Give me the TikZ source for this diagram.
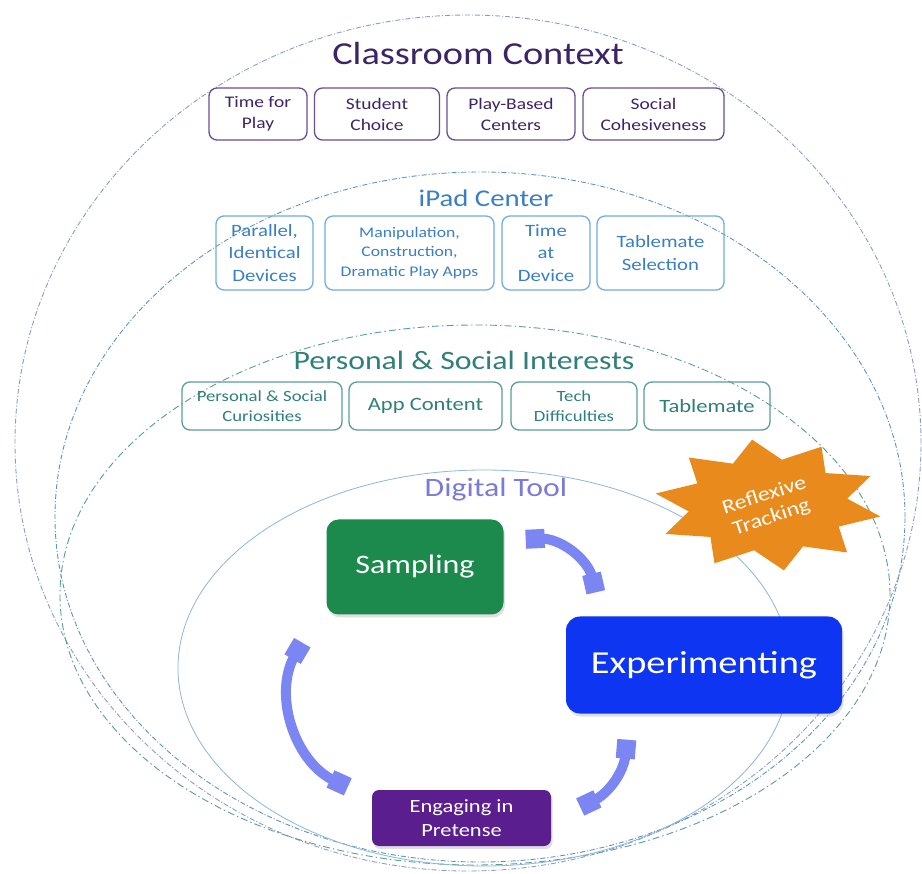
\documentclass[tikz,border=0pt]{standalone}
\usepackage{fontspec}
\setmainfont{Carlito}[FakeStretch=1.2]
\usetikzlibrary{shapes.geometric,arrows.meta,calc,shadows}
\definecolor{ccpurple}{HTML}{3D2466}
\definecolor{ccborder}{HTML}{6B4E8F}
\definecolor{ipblue}{HTML}{3A7FC6}
\definecolor{ipborder}{HTML}{6FAEE0}
\definecolor{psteal}{HTML}{2F7F7A}
\definecolor{psborder}{HTML}{5A9E99}
\definecolor{dtlav}{HTML}{7A7AD8}
\definecolor{arrcol}{HTML}{7B86F2}
\definecolor{sampgreen}{HTML}{1B8A4C}
\definecolor{expblue}{HTML}{0D35F2}
\definecolor{engpurple}{HTML}{5B1E8E}
\definecolor{starorange}{HTML}{E98A1C}
\definecolor{outerline}{HTML}{8C9CC8}
\definecolor{dtline}{HTML}{8CB8D8}
\tikzset{
  fs/.style={font=\fontsize{#1pt}{\dimexpr #1pt*130/100\relax}\selectfont},
  ccbox/.style={draw=ccborder, line width=1.3pt, rounded corners=8pt, text=ccpurple, align=center, fs=16.2, inner sep=0pt, minimum height=52pt},
  ipbox/.style={draw=ipborder, line width=1.3pt, rounded corners=8pt, text=ipblue, align=center, fs=17.3, inner sep=0pt, minimum height=74pt},
  psbox/.style={draw=psborder, line width=1.3pt, rounded corners=8pt, text=psteal, align=center, fs=15.6, inner sep=0pt, minimum height=48pt},
  corebox/.style={rounded corners=12pt, text=white, align=center, inner sep=0pt,
    drop shadow={opacity=0.25, shadow xshift=1.5pt, shadow yshift=-3pt}},
  cyclearr/.style={draw=arrcol, line width=10pt, {Square[length=19pt,width=19pt]}-{Square[length=19pt,width=19pt]}},
  ring/.style={line width=0.9pt, dash pattern=on 5pt off 2pt on 1pt off 2pt}
}
\begin{document}
\begin{tikzpicture}[x=1pt,y=-1pt]
\useasboundingbox (0,0) rectangle (922,874);
\fill[white] (0,0) rectangle (922,874);
% rings
\draw[ring, draw=outerline] (468,443) ellipse [x radius=453pt, y radius=428pt];
\draw[ring, draw=ipborder!85!black] (480,517) ellipse [x radius=425pt, y radius=345pt];
\draw[ring, draw=psborder, dash pattern=on 7pt off 3pt on 1.5pt off 3pt] (475,595) ellipse [x radius=415pt, y radius=270pt];
\draw[draw=dtline, line width=0.8pt] (484,668) ellipse [x radius=306pt, y radius=198pt];
% titles
\node[text=ccpurple, fs=32, anchor=base] (cctitle) at (478,65) {Classroom Context};
\node[text=ipblue, fs=24, anchor=base] (iptitle) at (486,207) {iPad Center};
\node[text=psteal, fs=26.5, anchor=base] (pstitle) at (464,370) {Personal \& Social Interests};
\node[text=dtlav, fs=26.5, anchor=base] (dttitle) at (496,497) {Digital Tool};
% classroom boxes
\node[ccbox, minimum width=98pt] (c1) at (258,114) {Time for\\Play};
\node[ccbox, minimum width=125pt] (c2) at (377,114) {Student\\Choice};
\node[ccbox, minimum width=128pt] (c3) at (511,114) {Play-Based\\Centers};
\node[ccbox, minimum width=141pt] (c4) at (653.5,114) {Social\\Cohesiveness};
% ipad boxes
\node[ipbox, minimum width=97pt] (i1) at (264.5,253) {Parallel,\\Identical\\Devices};
\node[ipbox, minimum width=169pt, fs=14.7] (i2) at (409.5,253) {Manipulation,\\Construction,\\Dramatic Play Apps};
\node[ipbox, minimum width=88pt] (i3) at (546,253) {Time\\at\\Device};
\node[ipbox, minimum width=127pt] (i4) at (660.5,253) {Tablemate\\Selection};
% personal boxes
\node[psbox, minimum width=160pt] (s1) at (262,406) {Personal \& Social\\Curiosities};
\node[psbox, minimum width=153pt, fs=18.8] (s2) at (425.5,406) {App Content};
\node[psbox, minimum width=126pt] (s3) at (574,406) {Tech\\Difficulties};
\node[psbox, minimum width=126pt, fs=18.8] (s4) at (707,406) {Tablemate};
% star
\fill[starorange] plot[samples at={0,18,...,342}]
  ({768+(mod(\x,36)<1?114:80)*cos(\x+10)}, {505+(mod(\x,36)<1?66:46)*sin(\x+10)}) -- cycle;
\node[text=white, fs=20, rotate=18, align=center, inner sep=0pt] (startext) at (768,507) {Reflexive\\[-3pt]Tracking};
% core boxes
\node[corebox, fill=sampgreen, minimum width=177pt, minimum height=95pt, fs=26.7] (samp) at (415,567) {Sampling};
\node[corebox, fill=expblue, minimum width=276pt, minimum height=97pt, fs=32, rounded corners=14pt] (exp) at (704,665) {Experimenting};
\node[corebox, fill=engpurple, minimum width=179pt, minimum height=56pt, fs=18.7, rounded corners=7pt] (eng) at (461.5,818) {Engaging in\\Pretense};
% cycle arrows
\draw[cyclearr] ([shift={(22,20)}]samp.north east) to[bend left=40] ([shift={(30,-24)}]exp.north west);
\draw[cyclearr] ([shift={(-24,28)}]samp.south west) to[bend right=48] ([shift={(-24,-3)}]eng.north west);
\draw[cyclearr] ([shift={(61,26)}]exp.south west) to[bend left=30] ([shift={(29,-11)}]eng.east);
\end{tikzpicture}
\end{document}
